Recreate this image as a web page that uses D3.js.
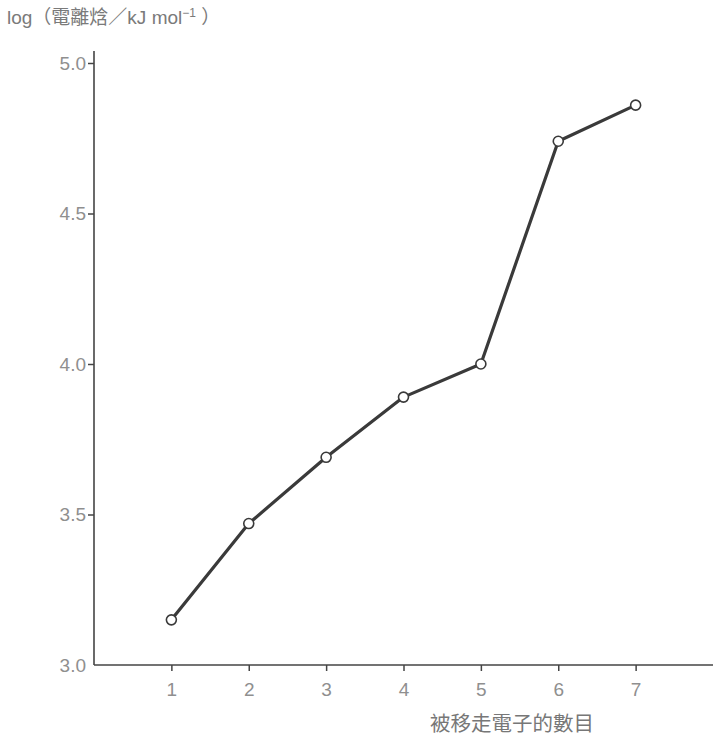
<!DOCTYPE html>
<html>
<head>
<meta charset="utf-8">
<script src="https://cdn.jsdelivr.net/npm/d3@7"></script>
<style>
  body { margin: 0; background: #fff; }
  text { font-family: "Liberation Sans", "Noto Sans CJK TC", sans-serif; }
</style>
</head>
<body>
<script>
// data
var electrons = [1, 2, 3, 4, 5, 6, 7];
var logEnergy = [3.15, 3.47, 3.69, 3.89, 4.00, 4.74, 4.86];
var yTicks = [3.0, 3.5, 4.0, 4.5, 5.0];

var svgWidth = 713;
var svgHeight = 737;

var svg = d3.select("body")
  .append("svg")
  .attr("width", svgWidth)
  .attr("height", svgHeight);

// scales
var xScale = d3.scaleLinear().domain([0, 8]).range([94, 713]);
var yScale = d3.scaleLinear().domain([3, 5]).range([665, 63]);

var axisColor = "#444";
var labelColor = "#8f8f8f";

// y axis
var yAxis = svg.append("g")
  .attr("transform", "translate(94,0)")
  .call(d3.axisLeft(yScale).tickValues(yTicks).tickFormat(d3.format(".1f")).tickSize(6).tickPadding(2));
yAxis.select(".domain").remove();
yAxis.append("line")
  .attr("x1", 0).attr("x2", 0)
  .attr("y1", 51).attr("y2", 665)
  .attr("stroke", axisColor).attr("stroke-width", 1.6);

// x axis
var xAxis = svg.append("g")
  .attr("transform", "translate(0,665)")
  .call(d3.axisBottom(xScale).tickValues(electrons).tickSize(6).tickPadding(12));
xAxis.select(".domain").remove();
xAxis.append("line")
  .attr("x1", 94).attr("x2", 713)
  .attr("y1", 0).attr("y2", 0)
  .attr("stroke", axisColor).attr("stroke-width", 1.6);

svg.selectAll(".tick line").attr("stroke", axisColor).attr("stroke-width", 1.5);
svg.selectAll(".tick text")
  .attr("fill", labelColor)
  .style("font-size", "19px")
  .style("font-weight", "300");
// the 3.0 label sits next to the corner
yAxis.selectAll(".tick").filter(d => d === 3).select("line").remove();

// data line
var pts = electrons.map((e, i) => [e, logEnergy[i]]);
var line = d3.line()
  .x(d => xScale(d[0]))
  .y(d => yScale(d[1]));

svg.append("path")
  .datum(pts)
  .attr("d", line)
  .attr("fill", "none")
  .attr("stroke", "#3a3a3a")
  .attr("stroke-width", 3.2)
  .attr("stroke-linejoin", "round");

svg.selectAll(".pt")
  .data(pts)
  .enter()
  .append("circle")
  .attr("class", "pt")
  .attr("cx", d => xScale(d[0]))
  .attr("cy", d => yScale(d[1]))
  .attr("r", 5)
  .attr("fill", "#fff")
  .attr("stroke", "#3a3a3a")
  .attr("stroke-width", 1.6);

// titles
var yTitle = svg.append("text")
  .attr("x", 7)
  .attr("y", 24)
  .attr("fill", "#7a7a7a")
  .style("font-size", "19px");
yTitle.append("tspan").text("log（電離焓／kJ mol");
yTitle.append("tspan").attr("dy", -7).style("font-size", "12px").text("−1");
yTitle.append("tspan").attr("dy", 7).text(" ）");

svg.append("text")
  .attr("x", 512)
  .attr("y", 731)
  .attr("text-anchor", "middle")
  .attr("fill", "#777")
  .style("font-size", "20.5px")
  .text("被移走電子的數目");
</script>
</body>
</html>
